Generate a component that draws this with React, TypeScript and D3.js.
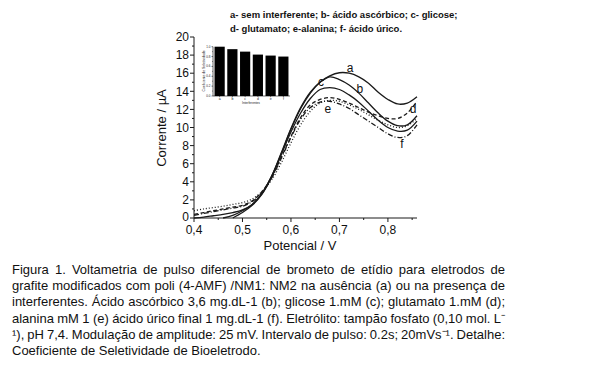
import React from "react";
import * as d3 from "d3";

// ---------- data ----------
const potentials = [0.40, 0.42, 0.44, 0.46, 0.48, 0.50, 0.52, 0.54, 0.56, 0.58, 0.60, 0.62, 0.64, 0.66, 0.68, 0.70, 0.72, 0.74, 0.76, 0.78, 0.80, 0.82, 0.84, 0.86];
const curveA = [0.0, 0.1, 0.25, 0.4, 0.6, 0.9, 1.5, 2.7, 4.6, 7.1, 9.8, 12.1, 13.8, 15.0, 15.7, 16.05, 16.0, 15.6, 14.9, 13.9, 13.1, 12.6, 12.7, 13.4];
const curveB = [null, null, null, 0.0, 0.3, 0.8, 1.5, 2.7, 4.6, 7.2, 9.9, 12.2, 13.9, 15.0, 15.6, 15.3, 14.7, 13.8, 12.7, 11.6, 10.7, 10.2, 10.3, 11.3];
const curveC = [null, null, null, null, 0.0, 0.6, 1.4, 2.6, 4.5, 7.0, 9.5, 11.6, 13.2, 14.2, 14.4, 14.2, 13.6, 12.8, 11.8, 10.8, 10.0, 9.6, 9.7, 10.7];
const curveD = [0.4, 0.6, 0.8, 1.0, 1.2, 1.4, 1.9, 2.9, 4.5, 6.7, 9.0, 11.1, 12.5, 13.1, 13.3, 13.1, 12.7, 12.2, 11.7, 11.3, 11.0, 11.0, 11.6, 12.9];
const curveE = [0.8, 1.0, 1.15, 1.3, 1.5, 1.7, 2.1, 2.9, 4.2, 6.1, 8.3, 10.3, 11.8, 12.7, 13.0, 12.9, 12.5, 12.0, 11.4, 10.8, 10.3, 10.0, 10.2, 11.0];
const curveF = [0.3, 0.5, 0.7, 0.9, 1.1, 1.3, 1.8, 2.8, 4.4, 6.6, 8.9, 10.9, 12.2, 12.8, 12.9, 12.6, 12.1, 11.4, 10.7, 10.0, 9.3, 8.9, 9.1, 10.3];

const seriesNames = ["a", "b", "c", "d", "e", "f"];
const seriesValues = [curveA, curveB, curveC, curveD, curveE, curveF];
const seriesDash = ["", "", "", "4,2.5", "1,2", "5,2,1,2"];
// label anchor (potential, current) for curve letters
const labelV = [0.722, 0.742, 0.662, 0.852, 0.676, 0.829];
const labelI = [16.13, 13.81, 14.59, 11.6, 11.6, 7.73];

const xTicks = [0.4, 0.5, 0.6, 0.7, 0.8];
const xMinor = [0.45, 0.55, 0.65, 0.75, 0.85];
const yTicks = [0, 2, 4, 6, 8, 10, 12, 14, 16, 18, 20];
const yMinor = [1, 3, 5, 7, 9, 11, 13, 15, 17, 19];

// inset
const insetCats = ["a", "b", "c", "d", "e", "f"];
const insetValues = [1.0, 0.95, 0.90, 0.84, 0.82, 0.80];
const insetTicks = [0.0, 0.2, 0.4, 0.6, 0.8, 1.0];
const insetMinor = [0.1, 0.3, 0.5, 0.7, 0.9];

const legendLines = [
  "a- sem interferente; b- ácido ascórbico; c- glicose;",
  "d- glutamato; e-alanina; f- ácido úrico.",
];

const captionLines = [
  "Figura 1. Voltametria de pulso diferencial de brometo de etídio para eletrodos de",
  "grafite modificados com poli (4-AMF) /NM1: NM2 na ausência (a) ou na presença de",
  "interferentes. Ácido ascórbico 3,6 mg.dL-1 (b); glicose 1.mM (c); glutamato 1.mM (d);",
  "alanina mM 1 (e) ácido úrico final 1 mg.dL-1 (f). Eletrólito: tampão fosfato (0,10 mol. L\u207B",
  "\u00B9), pH 7,4. Modulação de amplitude: 25 mV. Intervalo de pulso: 0.2s; 20mVs\u207B\u00B9. Detalhe:",
  "Coeficiente de Seletividade de Bioeletrodo.",
];

const FONT = "'Liberation Sans', Arial, Helvetica, sans-serif";

let measureCtx: CanvasRenderingContext2D | null = null;
function measure(text: string, font: string): number {
  if (!measureCtx) {
    const c = document.createElement("canvas");
    measureCtx = c.getContext("2d");
  }
  if (!measureCtx) return text.length * 6;
  measureCtx.font = font;
  return measureCtx.measureText(text).width;
}

function JustifiedLine({ text, x0, x1, y, size, justify }: any) {
  const font = `${size}px ${FONT}`;
  if (!justify) {
    return (
      <text x={x0} y={y} fontSize={size} fontFamily={FONT} fill="#111">{text}</text>
    );
  }
  const words = text.split(" ");
  const widths = words.map((w: string) => measure(w, font));
  const total = d3.sum(widths);
  const gap = (x1 - x0 - total) / (words.length - 1);
  let x = x0;
  const els: any[] = [];
  words.forEach((w: string, i: number) => {
    els.push(
      <text key={i} x={x} y={y} fontSize={size} fontFamily={FONT} fill="#111">{w}</text>
    );
    x += widths[i] + gap;
  });
  return <g>{els}</g>;
}

export default function App() {
  const W = 607, H = 369;
  const x = d3.scaleLinear().domain([0.4, 0.86]).range([194, 417]);
  const y = d3.scaleLinear().domain([0, 20]).range([218, 37]);

  const line = d3
    .line<[number, number | null]>()
    .defined((d) => d[1] !== null)
    .x((d) => x(d[0]))
    .y((d) => y(d[1] as number))
    .curve(d3.curveCatmullRom.alpha(0.5));

  const ix = d3.scaleBand().domain(insetCats).range([213, 290]).paddingInner(0.2).paddingOuter(0.12);
  const iy = d3.scaleLinear().domain([0, 1]).range([96, 46.7]);

  const stroke = "#1a1a1a";

  return (
    <svg width={W} height={H} style={{ position: "absolute", left: 0, top: 0, background: "#fff" }}>
      <rect x={0} y={0} width={W} height={H} fill="#fff" />

      {/* curves */}
      {seriesValues.map((vals, si) => (
        <path
          key={si}
          d={line(potentials.map((p, i) => [p, vals[i]] as [number, number | null])) || ""}
          fill="none"
          stroke={stroke}
          strokeWidth={1.3}
          strokeDasharray={seriesDash[si]}
        />
      ))}

      {/* curve labels */}
      {seriesNames.map((n, i) => (
        <text key={n} x={x(labelV[i])} y={y(labelI[i])} fontSize={12} fontFamily={FONT} textAnchor="middle" fill="#111">{n}</text>
      ))}

      {/* main axes */}
      <line x1={x(0.4)} x2={x(0.86)} y1={y(0)} y2={y(0)} stroke={stroke} strokeWidth={1} />
      <line x1={x(0.4)} x2={x(0.4)} y1={y(0)} y2={y(20)} stroke={stroke} strokeWidth={1} />
      {xTicks.map((t) => (
        <g key={t}>
          <line x1={x(t)} x2={x(t)} y1={y(0)} y2={y(0) + 4} stroke={stroke} />
          <text x={x(t)} y={234} fontSize={12} fontFamily={FONT} textAnchor="middle" fill="#111">{d3.format(".1f")(t).replace(".", ",")}</text>
        </g>
      ))}
      {xMinor.map((t) => (
        <line key={t} x1={x(t)} x2={x(t)} y1={y(0)} y2={y(0) + 2} stroke={stroke} />
      ))}
      {yTicks.map((t) => (
        <g key={t}>
          <line x1={x(0.4) - 4} x2={x(0.4)} y1={y(t)} y2={y(t)} stroke={stroke} />
          <text x={x(0.4) - 5} y={y(t) + (t === 0 ? 3.2 : 4.2)} fontSize={12} fontFamily={FONT} textAnchor="end" fill="#111">{t}</text>
        </g>
      ))}
      {yMinor.map((t) => (
        <line key={t} x1={x(0.4) - 2} x2={x(0.4)} y1={y(t)} y2={y(t)} stroke={stroke} />
      ))}
      <text x={300} y={250} fontSize={13} fontFamily={FONT} textAnchor="middle" fill="#111">Potencial / V</text>
      <text transform={`translate(166,128) rotate(-90)`} fontSize={13} fontFamily={FONT} textAnchor="middle" fill="#111">Corrente / µA</text>

      {/* inset */}
      {insetValues.map((v, i) => (
        <rect key={i} x={ix(insetCats[i])} y={iy(v)} width={ix.bandwidth()} height={iy(0) - iy(v)} fill="#000" />
      ))}
      <line x1={213} x2={290} y1={iy(0)} y2={iy(0)} stroke="#000" strokeWidth={0.6} />
      <line x1={213} x2={213} y1={iy(0)} y2={iy(1.0)} stroke="#000" strokeWidth={0.6} />
      {insetTicks.map((t) => (
        <g key={t}>
          <line x1={211.5} x2={213} y1={iy(t)} y2={iy(t)} stroke="#000" strokeWidth={0.5} />
          <text x={210.5} y={iy(t) + 1} fontSize={3} fontFamily={FONT} textAnchor="end" fill="#222">{t.toFixed(1)}</text>
        </g>
      ))}
      {insetMinor.map((t) => (
        <line key={t} x1={212.2} x2={213} y1={iy(t)} y2={iy(t)} stroke="#000" strokeWidth={0.5} />
      ))}
      {insetCats.map((c) => (
        <g key={c}>
          <line x1={(ix(c) as number) + ix.bandwidth() / 2} x2={(ix(c) as number) + ix.bandwidth() / 2} y1={iy(0)} y2={iy(0) + 1.2} stroke="#000" strokeWidth={0.5} />
          <text x={(ix(c) as number) + ix.bandwidth() / 2} y={iy(0) + 4.2} fontSize={3.5} fontFamily={FONT} textAnchor="middle" fill="#222">{c}</text>
        </g>
      ))}
      <text x={251} y={iy(0) + 7.8} fontSize={3.2} fontFamily={FONT} textAnchor="middle" fill="#222">Interferentes</text>
      <text transform={`translate(205,71) rotate(-90)`} fontSize={3.4} fontFamily={FONT} textAnchor="middle" fill="#222">Coeficiente de Seletividade</text>

      {/* legend text */}
      {legendLines.map((l, i) => (
        <text key={i} x={230} y={18 + i * 14} fontSize={9.5} fontWeight="bold" fontFamily={FONT} fill="#111">{l}</text>
      ))}

      {/* caption */}
      {captionLines.map((l, i) => (
        <JustifiedLine key={i} text={l} x0={12} x1={505} y={274 + i * 16.2} size={13} justify={i < captionLines.length - 1} />
      ))}
    </svg>
  );
}
